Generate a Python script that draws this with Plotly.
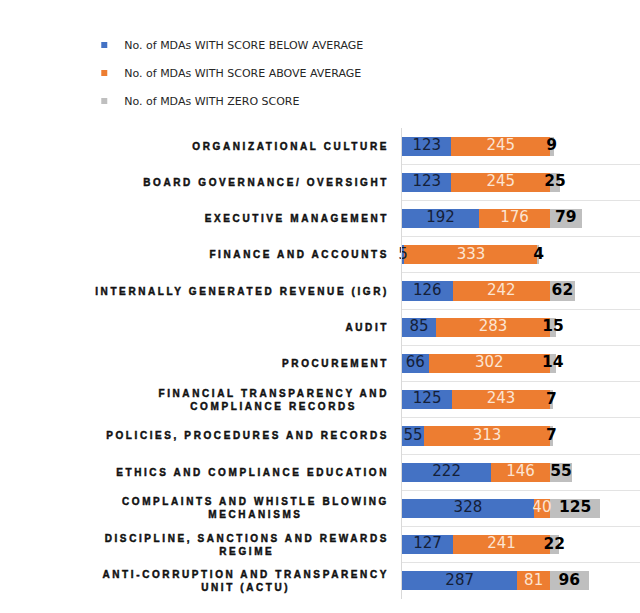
import plotly.graph_objects as go

# Assessment areas, listed top to bottom
categories = [
    "ORGANIZATIONAL CULTURE",
    "BOARD GOVERNANCE/ OVERSIGHT",
    "EXECUTIVE MANAGEMENT",
    "FINANCE AND ACCOUNTS",
    "INTERNALLY GENERATED REVENUE (IGR)",
    "AUDIT",
    "PROCUREMENT",
    "FINANCIAL TRANSPARENCY AND<br>COMPLIANCE RECORDS",
    "POLICIES, PROCEDURES AND RECORDS",
    "ETHICS AND COMPLIANCE EDUCATION",
    "COMPLAINTS AND WHISTLE BLOWING<br>MECHANISMS",
    "DISCIPLINE, SANCTIONS AND REWARDS<br>REGIME",
    "ANTI-CORRUPTION AND TRANSPARENCY<br>UNIT (ACTU)",
]

below_avg = [123, 123, 192, 5, 126, 85, 66, 125, 55, 222, 328, 127, 287]
above_avg = [245, 245, 176, 333, 242, 283, 302, 243, 313, 146, 40, 241, 81]
zero_score = [9, 25, 79, 4, 62, 15, 14, 7, 7, 55, 125, 22, 96]

series_names = [
    "No. of MDAs WITH SCORE BELOW AVERAGE",
    "No. of MDAs WITH SCORE ABOVE AVERAGE",
    "No. of MDAs WITH ZERO SCORE",
]

BLUE = "#4472C4"
ORANGE = "#ED7D31"
GREY = "#BFBFBF"
colors = [BLUE, ORANGE, GREY]

fig = go.Figure()

series = [below_avg, above_avg, zero_score]
for vals, name, col in zip(series, series_names, colors):
    fig.add_trace(go.Bar(
        y=categories, x=vals, orientation="h", name=name,
        marker=dict(color=col, line=dict(width=0)),
        showlegend=False, hoverinfo="x+name",
    ))

# Segment centres for the value labels
starts_zero = [b + a for b, a in zip(below_avg, above_avg)]
mid_below = [v / 2 for v in below_avg]
mid_above = [s + v / 2 for s, v in zip(below_avg, above_avg)]
mid_zero = [s + v / 2 for s, v in zip(starts_zero, zero_score)]

label_specs = [
    (mid_below, below_avg, dict(family="DejaVu Sans", size=15, color="#142038")),
    (mid_above, above_avg, dict(family="DejaVu Sans", size=15, color="#FCE4D2")),
    (mid_zero, zero_score, dict(family="DejaVu Sans", size=15.5, color="#000000", weight="bold")),
]
for xs, vals, fnt in label_specs:
    fig.add_trace(go.Scatter(
        y=categories, x=xs, mode="text", text=[str(v) for v in vals],
        textposition="middle center", textfont=fnt, cliponaxis=False,
        showlegend=False, hoverinfo="skip",
    ))

# Legend entries with small square swatches
for i, (name, col) in enumerate(zip(series_names, colors)):
    fig.add_trace(go.Scatter(
        x=[None], y=[None], mode="markers", name=name,
        marker=dict(symbol="square", size=6, color=col),
        legendgroup=f"g{i}", showlegend=True,
    ))

fig.update_layout(
    width=640, height=613,
    margin=dict(l=402, r=0, t=128, b=14),
    paper_bgcolor="white", plot_bgcolor="white",
    barmode="stack", bargap=0.47,
    showlegend=True,
    legend=dict(
        x=-1.335, y=1.207, xanchor="left", yanchor="top",
        font=dict(family="DejaVu Sans", size=11, color="#262626"),
        tracegroupgap=9, itemwidth=30, bgcolor="rgba(0,0,0,0)",
    ),
    xaxis=dict(range=[0, 592], showticklabels=False, showgrid=False,
               zeroline=False, ticks=""),
    yaxis=dict(
        categoryorder="array", categoryarray=categories,
        range=[12.5, -0.5], tickson="boundaries", ticks="",
        showgrid=True, gridcolor="#E3E3E3", gridwidth=1,
        showline=True, linecolor="#D9D9D9", linewidth=1,
        tickfont=dict(family="Liberation Sans", size=10, color="#111111", weight="bold"),
        ticklabelstandoff=10,
    ),
)

# Widen the tracking of the category labels, thicken them and centre wrapped lines
spacing_js = """
var gd = document.getElementById('{plot_id}');
gd.querySelectorAll('.ytick text').forEach(function(t){
    t.setAttribute('letter-spacing', '2.6px');
    t.style.stroke = '#111111';
    t.style.strokeWidth = '0.45px';
    var lines = t.querySelectorAll('tspan.line');
    if (lines.length > 1) {
        var widths = Array.prototype.map.call(lines, function(l){ return l.getComputedTextLength(); });
        var maxw = Math.max.apply(null, widths);
        lines.forEach(function(l, i){
            var x = parseFloat(l.getAttribute('x'));
            l.setAttribute('x', x - (maxw - widths[i]) / 2);
        });
    }
});
"""

fig.write_html("out.html", post_script=spacing_js)
